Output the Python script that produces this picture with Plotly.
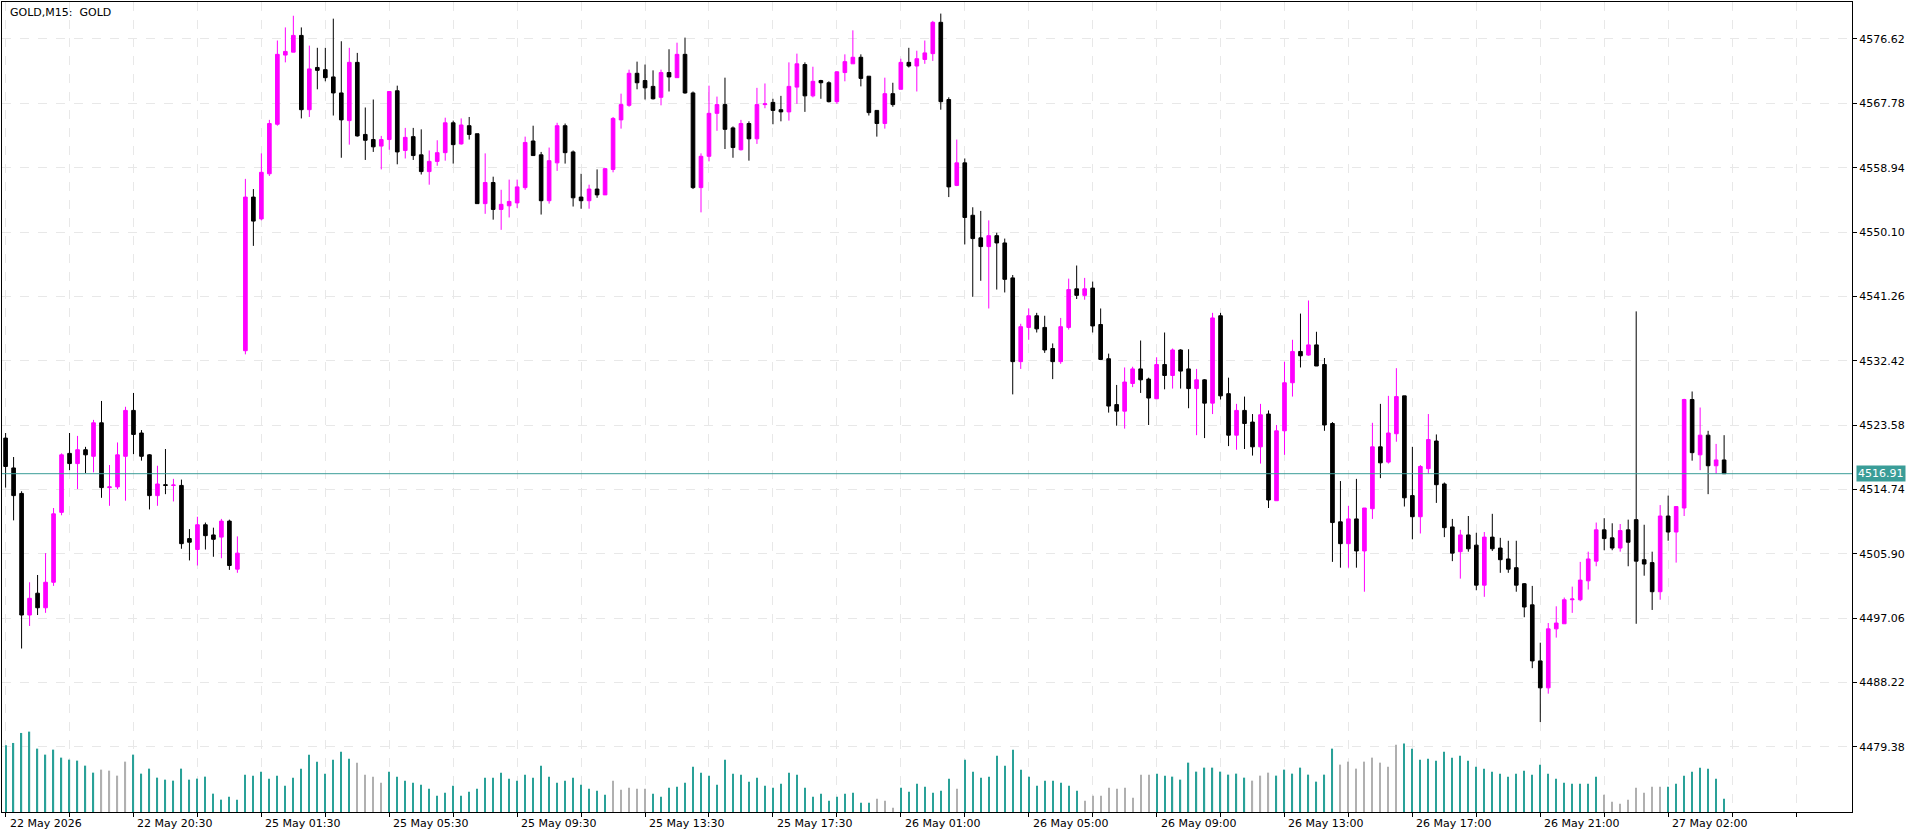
import plotly.graph_objects as go

opens = [4521.8,4517.7,4514.2,4497.5,4500.5,4498.5,4502.0,4511.6,4519.7,4518.3,
4520.2,4519.3,4523.9,4515.0,4515.1,4519.3,4525.6,4522.5,4519.5,4513.9,
4515.4,4515.3,4515.3,4508.0,4506.5,4509.9,4508.5,4508.2,4510.4,4503.8,
4533.8,4554.9,4551.9,4558.1,4564.9,4574.4,4574.8,4577.1,4566.9,4572.7,
4572.4,4571.4,4569.2,4565.4,4573.4,4563.5,4562.8,4561.9,4562.8,4569.5,
4561.3,4563.2,4560.7,4558.4,4559.8,4561.0,4565.1,4562.2,4564.7,4563.6,
4554.0,4556.9,4553.2,4553.7,4554.1,4556.2,4562.6,4560.7,4554.4,4559.6,
4564.7,4561.1,4554.9,4554.4,4556.0,4555.2,4558.7,4565.5,4567.5,4571.9,
4570.9,4570.1,4568.6,4572.0,4571.3,4574.5,4569.2,4556.2,4560.5,4566.4,
4567.6,4564.4,4561.4,4565.0,4562.9,4567.6,4567.9,4566.9,4566.6,4570.0,
4573.1,4568.8,4570.9,4570.6,4568.0,4572.0,4573.2,4574.1,4571.5,4566.8,
4565.0,4569.1,4569.7,4573.4,4572.9,4573.8,4574.6,4578.9,4568.3,4556.5,
4559.6,4552.4,4549.3,4548.1,4549.6,4548.6,4543.8,4532.3,4537.0,4538.6,
4537.0,4534.1,4532.3,4537.0,4542.3,4541.4,4542.4,4537.4,4532.7,4526.4,
4525.5,4529.3,4531.3,4529.9,4527.2,4531.9,4530.4,4533.9,4531.3,4528.6,
4529.8,4526.6,4538.6,4527.9,4522.2,4525.6,4524.0,4520.6,4525.1,4513.2,
4522.8,4529.4,4533.7,4533.2,4534.6,4531.9,4523.8,4510.3,4507.3,4510.7,
4506.3,4512.1,4520.6,4518.5,4522.4,4527.6,4513.9,4511.0,4517.6,4521.4,
4515.5,4509.6,4506.2,4508.5,4507.1,4501.6,4508.2,4506.7,4505.2,4504.0,
4501.8,4498.9,4491.2,4487.5,4495.6,4496.3,4499.6,4499.6,4502.2,4504.9,
4509.2,4508.1,4506.7,4509.2,4510.6,4505.1,4504.7,4500.7,4511.1,4508.9,
4512.2,4527.1,4519.5,4522.2,4518.0,4518.8]
highs = [4522.5,4519.2,4514.5,4502.0,4503.0,4506.0,4512.2,4519.7,4522.5,4522.1,
4520.6,4524.3,4526.9,4518.1,4521.2,4526.1,4528.0,4522.9,4519.6,4518.0,
4520.3,4516.2,4516.1,4509.3,4511.0,4510.2,4509.5,4510.7,4510.6,4508.3,
4557.4,4556.0,4560.9,4565.5,4576.4,4578.2,4579.8,4578.2,4575.7,4575.4,
4575.4,4579.4,4576.3,4575.4,4574.7,4567.2,4568.3,4563.3,4569.4,4570.2,
4564.4,4564.4,4564.2,4561.3,4562.7,4565.8,4565.4,4565.7,4565.9,4563.6,
4560.9,4557.7,4555.9,4557.3,4557.3,4563.2,4564.7,4561.1,4561.7,4565.1,
4565.0,4561.3,4558.1,4556.6,4558.7,4558.9,4565.9,4569.1,4572.4,4573.5,
4573.1,4572.3,4572.4,4575.2,4576.1,4576.8,4569.4,4560.9,4570.2,4568.7,
4571.3,4564.6,4565.5,4565.3,4569.9,4570.5,4568.4,4568.8,4573.4,4574.6,
4573.4,4572.8,4571.0,4570.8,4572.2,4574.5,4577.8,4574.5,4571.5,4566.8,
4571.3,4570.6,4573.9,4575.4,4575.0,4576.4,4579.1,4580.1,4568.6,4562.8,
4560.2,4553.5,4553.0,4551.7,4550.0,4549.2,4544.2,4537.5,4539.6,4539.0,
4538.6,4534.8,4538.3,4543.7,4545.5,4543.8,4543.3,4539.6,4533.4,4529.1,
4531.5,4531.6,4535.2,4530.1,4532.9,4536.3,4534.1,4534.0,4534.0,4531.3,
4529.9,4539.0,4539.0,4530.1,4526.5,4527.5,4525.1,4526.5,4525.6,4523.6,
4532.3,4535.3,4538.9,4540.7,4536.4,4532.8,4524.0,4515.9,4512.5,4516.2,
4512.2,4523.9,4526.5,4527.6,4531.4,4527.6,4520.6,4518.1,4525.1,4522.3,
4515.7,4510.7,4509.2,4511.1,4508.8,4508.9,4511.4,4508.1,4507.7,4507.7,
4501.9,4501.5,4493.7,4496.4,4498.7,4499.9,4501.4,4504.8,4506.2,4510.2,
4510.8,4510.1,4510.0,4510.6,4539.2,4509.9,4506.2,4512.6,4513.9,4512.4,
4527.2,4528.2,4526.0,4522.8,4521.0,4522.2]
lows = [4515.0,4510.5,4492.9,4496.0,4497.5,4497.8,4501.5,4511.2,4517.4,4514.8,
4517.0,4517.1,4513.6,4512.5,4514.8,4513.2,4519.6,4518.7,4512.0,4512.5,
4514.1,4513.1,4506.6,4505.0,4504.3,4506.5,4505.5,4505.3,4503.7,4503.3,
4533.3,4548.2,4551.7,4557.8,4564.7,4573.4,4574.8,4565.7,4565.9,4569.7,
4570.8,4566.1,4560.3,4562.1,4563.2,4560.0,4561.1,4558.7,4561.4,4559.4,
4560.2,4560.0,4558.0,4556.6,4559.2,4559.9,4559.5,4562.1,4562.8,4554.0,
4552.6,4551.8,4550.4,4552.1,4553.4,4555.9,4560.6,4552.5,4554.0,4558.5,
4559.5,4553.6,4553.3,4553.3,4554.8,4555.2,4558.3,4564.3,4567.3,4569.7,
4568.3,4568.3,4567.5,4569.4,4571.3,4569.1,4556.0,4552.8,4559.8,4564.0,
4561.5,4560.3,4561.3,4559.9,4562.2,4567.1,4564.9,4565.3,4565.4,4567.7,
4566.6,4568.6,4568.4,4567.9,4567.7,4570.8,4573.2,4570.1,4566.1,4563.2,
4564.3,4567.3,4569.7,4572.7,4569.4,4573.2,4573.6,4566.9,4554.9,4556.4,
4548.4,4541.2,4543.4,4539.6,4542.2,4541.8,4527.8,4531.3,4535.3,4536.3,
4533.5,4529.9,4532.0,4536.7,4540.9,4540.8,4536.3,4532.6,4525.3,4523.5,
4523.1,4528.8,4528.0,4523.6,4527.2,4528.5,4528.6,4528.6,4525.9,4522.2,
4521.8,4525.1,4527.1,4520.7,4520.2,4520.3,4519.4,4518.3,4512.2,4513.2,
4519.5,4527.5,4531.5,4533.1,4531.7,4522.8,4504.8,4504.0,4504.0,4504.0,
4500.7,4510.7,4516.3,4518.3,4521.3,4512.4,4507.9,4508.7,4516.9,4512.9,
4508.2,4504.9,4502.5,4506.2,4500.9,4500.0,4506.3,4503.3,4503.3,4500.7,
4497.2,4490.2,4482.8,4486.7,4494.4,4496.3,4497.8,4499.4,4501.0,4504.2,
4506.4,4506.4,4506.2,4504.2,4496.3,4502.9,4498.2,4499.6,4507.7,4504.7,
4511.1,4518.7,4517.4,4514.1,4516.9,4516.9]
closes = [4517.9,4513.9,4497.5,4499.8,4498.5,4502.0,4511.4,4519.5,4518.3,4520.2,
4519.5,4523.9,4515.0,4515.1,4519.5,4525.6,4522.3,4519.3,4513.9,4515.5,
4515.3,4515.35,4507.3,4507.5,4509.9,4508.4,4507.9,4510.4,4504.3,4506.0,
4554.9,4551.6,4558.3,4565.0,4574.5,4574.9,4577.1,4566.9,4572.5,4572.3,
4571.3,4569.2,4565.5,4573.4,4563.3,4562.7,4561.8,4562.8,4569.4,4561.1,
4563.1,4560.6,4558.4,4559.8,4561.0,4565.1,4562.1,4564.8,4563.5,4554.0,
4556.9,4553.2,4553.9,4554.3,4556.3,4562.4,4560.6,4554.4,4559.9,4564.7,
4561.0,4554.8,4554.4,4556.0,4555.2,4558.8,4565.7,4567.6,4571.9,4570.6,
4569.9,4568.4,4572.0,4571.4,4574.5,4569.2,4556.2,4560.5,4566.4,4567.6,
4564.2,4561.7,4565.0,4562.9,4567.6,4567.7,4566.8,4566.6,4570.1,4573.2,
4568.8,4570.8,4570.6,4568.0,4572.1,4573.5,4574.1,4571.2,4566.5,4565.0,
4569.1,4567.6,4573.4,4572.9,4573.9,4574.7,4578.9,4568.0,4556.3,4559.6,
4552.1,4549.2,4548.1,4549.6,4548.6,4543.6,4532.3,4537.1,4538.6,4536.8,
4533.9,4532.3,4537.1,4542.2,4541.4,4542.3,4537.2,4532.6,4526.2,4525.5,
4529.5,4531.3,4529.8,4527.3,4531.9,4530.4,4533.9,4531.0,4528.6,4529.8,
4526.6,4538.3,4527.6,4522.2,4525.6,4523.8,4520.6,4525.0,4513.3,4522.8,
4529.4,4533.7,4533.1,4534.6,4531.7,4523.6,4510.2,4507.3,4510.7,4506.3,
4512.2,4520.6,4518.4,4522.5,4527.5,4513.6,4511.0,4517.9,4521.6,4515.4,
4509.5,4506.0,4508.5,4506.6,4501.6,4508.2,4506.6,4505.1,4503.8,4501.6,
4498.6,4491.2,4487.5,4495.6,4496.4,4499.6,4499.7,4502.3,4505.2,4509.2,
4508.0,4506.7,4509.1,4507.5,4504.9,4504.5,4500.7,4511.1,4508.9,4512.4,
4527.1,4519.8,4522.2,4518.0,4518.8,4516.91]

volumes = [2000,2070,2370,2410,1900,1720,1870,1630,1570,1540,1390,1180,1270,1240,1090,1510,1720,
1150,1300,1030,970,940,1300,970,1000,1060,550,370,460,370,1120,1090,1210,1000,1090,790,1030,1300,1720,1510,
1150,1570,1810,1600,1480,1120,1060,880,1210,1060,940,880,820,700,490,580,790,490,610,700,1030,1030,1180,
1000,940,1120,1030,1390,1060,880,940,1030,820,700,640,520,940,670,730,700,700,550,460,730,760,880,1360,
1180,1090,820,1570,1150,1120,910,1030,790,730,850,1180,1120,730,460,550,340,460,550,580,280,280,400,340,130,
730,610,850,760,580,640,1000,700,1570,1210,1030,1060,1690,1390,1870,1270,1060,790,940,940,880,790,640,340,
490,490,730,700,730,430,1120,1120,1150,1090,1060,970,1480,1210,1330,1330,1210,1120,1150,1030,940,1090,1180,
1090,1270,1150,1330,1120,910,1120,1900,1420,1510,1300,1510,1630,1480,1360,2020,2050,1900,1570,1600,1540,1810,
1630,1690,1540,1360,1300,1210,1150,1060,1150,1240,1120,1420,1150,1000,880,850,850,850,1060,520,310,250,370,
730,580,760,760,760,850,1090,1210,1330,1300,1000,400]
gray_bars = list(range(12, 16)) + list(range(44, 48)) + list(range(76, 81)) + list(range(109, 112)) + [119] \
    + list(range(135, 144)) + list(range(156, 159)) + list(range(167, 175)) + list(range(200, 208))

price_ticks = [4576.62, 4567.78, 4558.94, 4550.10, 4541.26, 4532.42, 4523.58, 4514.74,
               4505.90, 4497.06, 4488.22, 4479.38]
time_tick_idx = [0, 16, 32, 48, 64, 80, 96, 112, 128, 144, 160, 176, 192, 208]
time_tick_text = ["22 May 2026", "22 May 20:30", "25 May 01:30", "25 May 05:30", "25 May 09:30",
                  "25 May 13:30", "25 May 17:30", "26 May 01:00", "26 May 05:00", "26 May 09:00",
                  "26 May 13:00", "26 May 17:00", "26 May 21:00", "27 May 02:00"]
last_price = 4516.91

n = len(closes)
x = list(range(n))
TEAL = "#3a9d98"
FONT = "DejaVu Sans"

fig = go.Figure()
fig.add_trace(go.Bar(
    x=x, y=volumes, yaxis="y2", width=0.15,
    marker=dict(color=["#b0b0b0" if i in gray_bars else "#2aa198" for i in x], line_width=0),
    hoverinfo="skip", showlegend=False))
fig.add_trace(go.Candlestick(
    x=x, open=opens, high=highs, low=lows, close=closes,
    increasing=dict(line=dict(color="#ff00ff", width=1), fillcolor="#ff00ff"),
    decreasing=dict(line=dict(color="#000000", width=1), fillcolor="#000000"),
    whiskerwidth=0, showlegend=False))

fig.add_shape(type="line", xref="paper", x0=0, x1=1, yref="y", y0=last_price, y1=last_price,
              line=dict(color=TEAL, width=1))

annotations = [dict(xref="paper", yref="paper", x=0.003, y=0.997, xanchor="left", yanchor="top",
                    text="GOLD,M15:  GOLD", showarrow=False, font=dict(family=FONT, size=11, color="#000"))]
for i, t in zip(time_tick_idx, time_tick_text):
    annotations.append(dict(x=i, xref="x", y=0, yref="paper", xanchor="left", yanchor="top",
                            xshift=2, yshift=-3, text=t, showarrow=False,
                            font=dict(family=FONT, size=11, color="#000")))
annotations.append(dict(xref="paper", x=1, xanchor="left", xshift=4, yref="y", y=last_price,
                        yanchor="middle", text="%.2f" % last_price, showarrow=False,
                        bgcolor=TEAL, borderpad=1, font=dict(family=FONT, size=11, color="#fff")))

grid_idx = list(range(0, 232, 8))
fig.update_layout(
    width=1920, height=834,
    margin=dict(l=2, r=68, t=2, b=22),
    paper_bgcolor="#fff", plot_bgcolor="#fff",
    boxgap=0.35,
    annotations=annotations,
    xaxis=dict(range=[-0.45, 231], rangeslider=dict(visible=False),
               tickvals=grid_idx, ticktext=["" for _ in grid_idx],
               showgrid=True, gridcolor="#e8e8e8", griddash="dash", gridwidth=1,
               ticks="outside", ticklen=4, tickcolor="#000",
               showline=True, linecolor="#000", linewidth=1, mirror=True, zeroline=False),
    yaxis=dict(range=[4470.45, 4581.69], side="right", tickvals=price_ticks,
               ticktext=["%.2f" % v for v in price_ticks],
               showgrid=True, gridcolor="#e8e8e8", griddash="dash",
               ticks="outside", ticklen=4, tickcolor="#000",
               tickfont=dict(family=FONT, size=11, color="#000"),
               showline=True, linecolor="#000", linewidth=1, mirror=True, zeroline=False),
    yaxis2=dict(overlaying="y", range=[0, 24285], visible=False, fixedrange=True),
    hovermode=False,
)

fig.write_html("out.html", config={"displayModeBar": False},
               post_script="document.body.style.margin='0';document.body.style.overflow='hidden';")
